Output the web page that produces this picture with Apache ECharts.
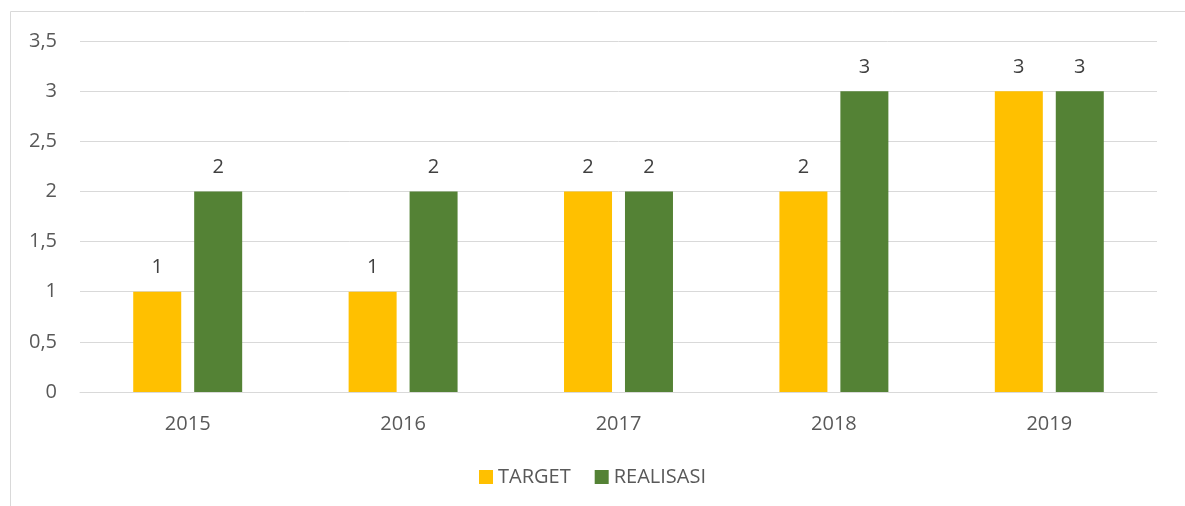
<!DOCTYPE html>
<html>
<head>
<meta charset="utf-8">
<script src="https://cdn.jsdelivr.net/npm/echarts@6/dist/echarts.min.js"></script>
<style>
  html, body { margin: 0; padding: 0; background: #fff; }
  #main { width: 1185px; height: 506px; }
</style>
</head>
<body>
<div id="main"></div>
<script>
var years = ['2015', '2016', '2017', '2018', '2019'];
var target = [1, 1, 2, 2, 3];
var realisasi = [2, 2, 2, 3, 3];

var myChart = echarts.init(document.getElementById('main'));
var font = '"Open Sans", "Liberation Sans", sans-serif';

myChart.setOption({
    animation: false,
    textStyle: { fontFamily: font },
    graphic: [{
        type: 'rect',
        shape: { x: 10.5, y: 11.5, width: 1200, height: 520 },
        style: { fill: 'none', stroke: '#d9d9d9', lineWidth: 1 },
        silent: true
    }],
    grid: { left: 80, right: 28, top: 41, bottom: 114 },
    legend: {
        bottom: 14,
        left: 'center',
        itemWidth: 14,
        itemHeight: 14,
        itemGap: 24,
        icon: 'rect',
        textStyle: { color: '#595959', fontSize: 20, fontFamily: font }
    },
    xAxis: {
        type: 'category',
        data: years,
        axisLine: { lineStyle: { color: '#d9d9d9', width: 1 } },
        axisTick: { show: false },
        axisLabel: { color: '#595959', fontSize: 20, margin: 22 }
    },
    yAxis: {
        type: 'value',
        min: 0,
        max: 3.5,
        interval: 0.5,
        axisLine: { show: false },
        axisTick: { show: false },
        splitLine: { lineStyle: { color: '#d9d9d9', width: 1 } },
        axisLabel: {
            color: '#595959', fontSize: 20, margin: 23,
            formatter: function (v) { return String(v).replace('.', ','); }
        }
    },
    series: [
        {
            name: 'TARGET',
            type: 'bar',
            data: target,
            barWidth: 48,
            barGap: '27%',
            itemStyle: { color: '#FFC000' },
            label: { show: true, position: 'top', distance: 14, color: '#404040', fontSize: 20 }
        },
        {
            name: 'REALISASI',
            type: 'bar',
            data: realisasi,
            barWidth: 48,
            itemStyle: { color: '#548235' },
            label: { show: true, position: 'top', distance: 14, color: '#404040', fontSize: 20 }
        }
    ]
});
</script>
</body>
</html>
